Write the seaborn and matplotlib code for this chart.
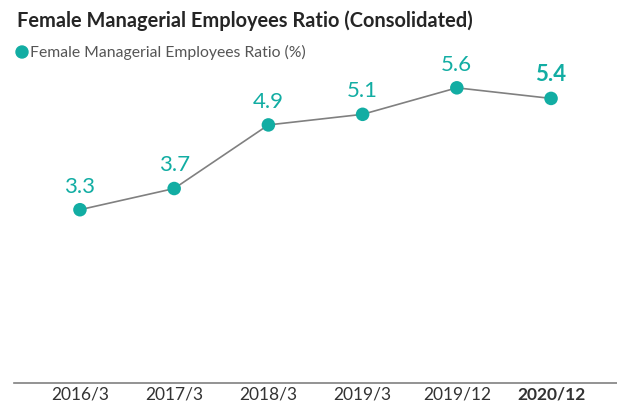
import matplotlib
matplotlib.use("Agg")
import matplotlib.pyplot as plt
import seaborn as sns
import pandas as pd

periods = ["2016/3", "2017/3", "2018/3", "2019/3", "2019/12", "2020/12"]
ratio = [3.3, 3.7, 4.9, 5.1, 5.6, 5.4]
title = "Female Managerial Employees Ratio (Consolidated)"
legend_label = "Female Managerial Employees Ratio (%)"

TEAL = "#12ADA3"
sns.set_theme(style="white")
plt.rcParams["font.family"] = ["Lato", "DejaVu Sans"]

df = pd.DataFrame({"period": periods, "ratio": ratio})

fig = plt.figure(figsize=(6.17, 4.03), dpi=100)
ax = fig.add_axes([14 / 617, 20.5 / 403, 603 / 617, 318 / 403])

sns.lineplot(data=df, x="period", y="ratio", ax=ax, color="#808080", linewidth=1.2,
             sort=False, zorder=1)
sns.scatterplot(data=df, x="period", y="ratio", ax=ax, color=TEAL, s=95,
                edgecolor="none", zorder=2)

for i, (p, v) in enumerate(zip(periods, ratio)):
    last = i == len(periods) - 1
    ax.annotate(f"{v:.1f}", (i, v), xytext=(0, 9.5), textcoords="offset points",
                ha="center", va="bottom", color=TEAL, fontsize=16,
                fontweight="bold" if last else "normal")

ax.set_xlim(-0.7, 5.7)
ax.set_ylim(0.04, 6.04)
ax.set_xlabel("")
ax.set_ylabel("")
ax.set_yticks([])
ax.set_xticks(range(len(periods)))
ax.set_xticklabels(periods, fontsize=12.5, color="#333333")
ax.get_xticklabels()[-1].set_fontweight("bold")
ax.tick_params(axis="x", length=0, pad=3)
for s in ["top", "right", "left"]:
    ax.spines[s].set_visible(False)
ax.spines["bottom"].set_color("#808080")
ax.spines["bottom"].set_linewidth(1.2)

fig.text(17 / 617, 1 - 27 / 403, title, fontsize=14.4, fontweight="bold",
         color="#252525", ha="left", va="baseline")
fig.patches.append(matplotlib.patches.Ellipse((22 / 617, 1 - 52 / 403), 12 / 617, 12 / 403,
                                              transform=fig.transFigure, color=TEAL,
                                              figure=fig))
fig.text(30 / 617, 1 - 52 / 403, legend_label, fontsize=11.3, color="#555555",
         ha="left", va="center")

fig.savefig("out.png", dpi=100)
